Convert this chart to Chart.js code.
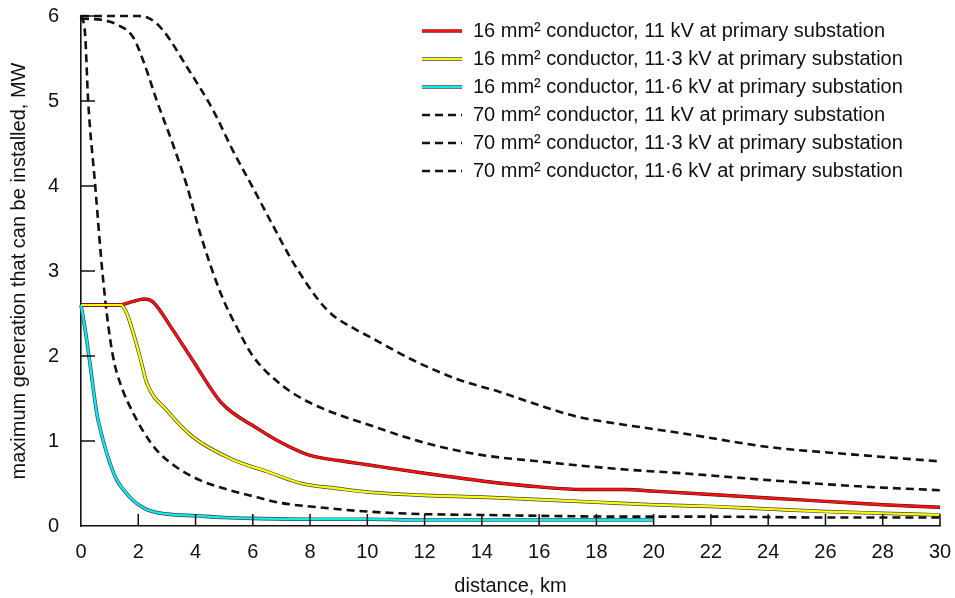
<!DOCTYPE html>
<html>
<head>
<meta charset="utf-8">
<script src="https://cdn.jsdelivr.net/npm/chart.js@4/dist/chart.umd.min.js"></script>
<style>
  html, body { margin: 0; padding: 0; background: #fff; }
  canvas { display: block; }
</style>
</head>
<body>
<canvas id="gen-chart" width="955" height="598"></canvas>
<script>
// distance (km) / max generation (MW)
const red16_11_x = [0, 1.3, 1.8, 2.2, 2.5, 3.2, 3.9, 4.9, 6.2, 7, 8, 9, 10, 12, 14, 16, 17.5, 19, 20, 22, 24, 26, 28, 30];
const red16_11_y = [2.6, 2.6, 2.64, 2.67, 2.64, 2.31, 1.95, 1.45, 1.14, 0.98, 0.83, 0.77, 0.72, 0.62, 0.53, 0.46, 0.43, 0.43, 0.41, 0.37, 0.33, 0.29, 0.25, 0.22];

const yel16_113_x = [0, 1.4, 1.6, 1.8, 2.06, 2.3, 3.0, 3.9, 5.3, 6.5, 7.7, 9, 10, 12, 14, 16, 18, 20, 22, 24, 26, 28, 30];
const yel16_113_y = [2.6, 2.6, 2.5, 2.3, 1.99, 1.68, 1.36, 1.05, 0.78, 0.64, 0.5, 0.44, 0.4, 0.36, 0.34, 0.31, 0.28, 0.25, 0.23, 0.2, 0.17, 0.15, 0.13];

const cyan16_116_x = [0, 0.15, 0.31, 0.55, 0.77, 1.0, 1.25, 1.5, 1.82, 2.2, 2.5, 3, 4, 5, 6, 8, 10, 12, 14, 16, 18, 20];
const cyan16_116_y = [2.6, 2.3, 1.92, 1.33, 1.01, 0.75, 0.54, 0.42, 0.3, 0.21, 0.17, 0.14, 0.12, 0.1, 0.09, 0.08, 0.08, 0.07, 0.07, 0.07, 0.07, 0.07];

const dash70_11_x = [0, 1, 2, 2.4, 2.87, 3.7, 4.6, 5.3, 6.1, 6.6, 7.5, 8.6, 9.6, 10, 11.6, 13.2, 14.6, 16, 17.4, 18.8, 20, 21, 24, 27, 30];
const dash70_11_y = [6, 6, 6, 5.97, 5.83, 5.4, 4.9, 4.42, 3.92, 3.6, 3.05, 2.54, 2.31, 2.24, 1.95, 1.72, 1.58, 1.42, 1.28, 1.2, 1.14, 1.09, 0.93, 0.84, 0.76];

const dash70_113_x = [0, 0.8, 1.25, 1.82, 2.2, 2.65, 3.2, 3.7, 4.2, 4.9, 5.5, 6, 7, 8, 10.4, 12, 13.9, 16, 18.8, 21, 24, 27, 30];
const dash70_113_y = [5.97, 5.95, 5.9, 5.75, 5.45, 5.0, 4.5, 4.0, 3.4, 2.72, 2.3, 2.0, 1.66, 1.45, 1.15, 0.98, 0.84, 0.76, 0.67, 0.62, 0.54, 0.47, 0.42];

const dash70_116_x = [0, 0.14, 0.25, 0.49, 0.73, 0.9, 1.12, 1.4, 1.82, 2.2, 2.65, 3.3, 4.15, 5, 5.9, 7, 8, 10, 12, 14, 16, 19, 22, 26, 30];
const dash70_116_y = [6.0, 5.8, 5.0, 4.03, 3.05, 2.5, 1.99, 1.65, 1.33, 1.1, 0.89, 0.7, 0.54, 0.44, 0.36, 0.27, 0.23, 0.17, 0.14, 0.13, 0.12, 0.11, 0.11, 0.1, 0.1];

const seriesLabels = [
    '16 mm² conductor, 11 kV at primary substation',
    '16 mm² conductor, 11·3 kV at primary substation',
    '16 mm² conductor, 11·6 kV at primary substation',
    '70 mm² conductor, 11 kV at primary substation',
    '70 mm² conductor, 11·3 kV at primary substation',
    '70 mm² conductor, 11·6 kV at primary substation'
];
const xTicks = [0, 2, 4, 6, 8, 10, 12, 14, 16, 18, 20, 22, 24, 26, 28, 30];
const yTicks = [0, 1, 2, 3, 4, 5, 6];

const FONT = '"Liberation Sans", Arial, sans-serif';

function pts(xs, ys) {
    return xs.map((x, i) => ({x: x, y: ys[i]}));
}

function line(label, xs, ys, color, width, dash, order) {
    return {
        label: label,
        data: pts(xs, ys),
        borderColor: color,
        borderWidth: width,
        borderDash: dash || [],
        cubicInterpolationMode: 'monotone',
        pointRadius: 0,
        fill: false,
        clip: false,
        order: order
    };
}

// dark edge under the coloured lines
const outlines = [
    line('', red16_11_x, red16_11_y, '#3a1010', 3.4, null, 20),
    line('', yel16_113_x, yel16_113_y, '#444', 3.6, null, 20),
    line('', cyan16_116_x, cyan16_116_y, '#444', 3.6, null, 20)
];

const mainSets = [
    line(seriesLabels[0], red16_11_x, red16_11_y, '#ff1010', 2.4, null, 3),
    line(seriesLabels[1], yel16_113_x, yel16_113_y, '#ffff00', 2.2, null, 2),
    line(seriesLabels[2], cyan16_116_x, cyan16_116_y, '#00f0f8', 2.2, null, 1),
    line(seriesLabels[3], dash70_11_x, dash70_11_y, '#111', 2.6, [8, 5], 5),
    line(seriesLabels[4], dash70_113_x, dash70_113_y, '#111', 2.6, [8, 5], 5),
    line(seriesLabels[5], dash70_116_x, dash70_116_y, '#111', 2.6, [8, 5], 5)
];
mainSets.forEach(d => d.inLegend = true);

// ticks pointing into the plot, like the original
const innerTicks = {
    id: 'innerTicks',
    afterDatasetsDraw(chart) {
        const {ctx, chartArea, scales} = chart;
        ctx.save();
        ctx.strokeStyle = '#111';
        ctx.lineWidth = 1.5;
        ctx.beginPath();
        xTicks.forEach(v => {
            if (v === 0) return;
            const px = scales.x.getPixelForValue(v);
            ctx.moveTo(px, chartArea.bottom);
            ctx.lineTo(px, chartArea.bottom - 12);
        });
        yTicks.forEach(v => {
            if (v === 0) return;
            const py = scales.y.getPixelForValue(v);
            ctx.moveTo(chartArea.left, py);
            ctx.lineTo(chartArea.left + 14, py);
        });
        ctx.stroke();
        ctx.restore();
    }
};

const legendBox = {
    id: 'legendBox',
    afterDraw(chart) {
        const {ctx, chartArea} = chart;
        const sets = chart.data.datasets.filter(d => d.inLegend);
        const x0 = chartArea.left + 341;
        let y = 31;
        ctx.save();
        ctx.font = '20px ' + FONT;
        ctx.textBaseline = 'middle';
        sets.forEach(d => {
            if (d.borderDash.length === 0) {
                ctx.strokeStyle = '#444';
                ctx.lineWidth = 3.6;
                ctx.setLineDash([]);
                ctx.beginPath();
                ctx.moveTo(x0, y);
                ctx.lineTo(x0 + 40, y);
                ctx.stroke();
            }
            ctx.strokeStyle = d.borderColor;
            ctx.lineWidth = d.borderWidth;
            ctx.setLineDash(d.borderDash);
            ctx.beginPath();
            ctx.moveTo(x0, y);
            ctx.lineTo(x0 + 40, y);
            ctx.stroke();
            ctx.setLineDash([]);
            ctx.fillStyle = '#111';
            ctx.fillText(d.label, x0 + 51, y);
            y += 28;
        });
        ctx.restore();
    }
};

const Ctx = document.getElementById('gen-chart').getContext('2d');
const genChart = new Chart(Ctx, {
    type: 'line',
    data: {datasets: mainSets.concat(outlines)},
    options: {
        responsive: false,
        animation: false,
        layout: {padding: {top: 16, right: 15, left: 0, bottom: 0}},
        plugins: {
            legend: {display: false},
            tooltip: {enabled: false}
        },
        scales: {
            x: {
                type: 'linear',
                min: 0,
                max: 30,
                afterBuildTicks: s => { s.ticks = xTicks.map(v => ({value: v})); },
                afterFit: s => { s.height = 72; s.paddingLeft = 0; s.paddingRight = 0; },
                grid: {display: false},
                border: {display: true, color: '#111', width: 1.6},
                ticks: {color: '#111', padding: 6, font: {family: FONT, size: 20}},
                title: {
                    display: true,
                    text: 'distance, km',
                    color: '#111',
                    padding: {top: 4, bottom: 0},
                    font: {family: FONT, size: 20}
                }
            },
            y: {
                type: 'linear',
                min: 0,
                max: 6,
                afterBuildTicks: s => { s.ticks = yTicks.map(v => ({value: v})); },
                afterFit: s => { s.width = 81; s.paddingTop = 0; s.paddingBottom = 0; },
                grid: {display: false},
                border: {display: true, color: '#111', width: 1.6},
                ticks: {color: '#111', padding: 14, font: {family: FONT, size: 20}},
                title: {
                    display: true,
                    text: 'maximum generation that can be installed, MW',
                    color: '#111',
                    padding: {top: 7, bottom: 4},
                    font: {family: FONT, size: 20}
                }
            }
        }
    },
    plugins: [innerTicks, legendBox]
});
</script>
</body>
</html>
